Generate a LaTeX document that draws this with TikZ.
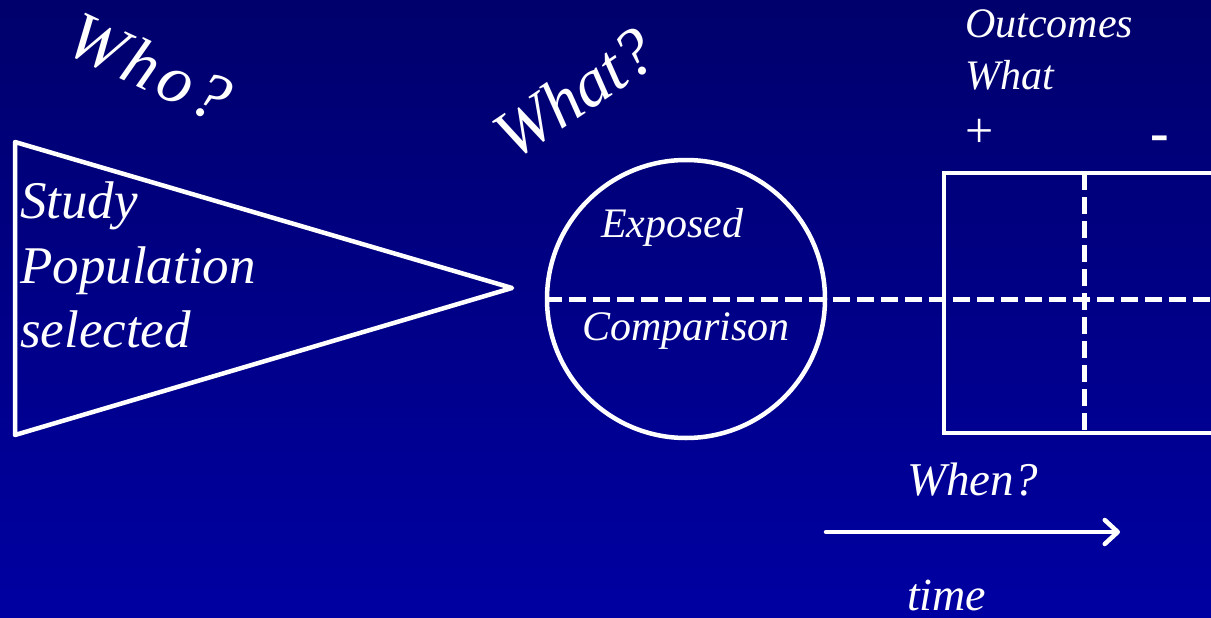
\documentclass[tikz,border=0pt]{standalone}
\usepackage{fontspec}
\setmainfont{Liberation Serif}[ItalicFont={Liberation Serif Italic}, BoldFont={Liberation Serif Bold}]
\usetikzlibrary{arrows.meta}
\definecolor{bgtop}{RGB}{0,0,108}
\definecolor{bgbot}{RGB}{0,0,162}
\begin{document}
\begin{tikzpicture}[x=1pt,y=-1pt,
  lbl/.style={text=white, inner sep=0pt, font=\itshape\fontsize{42}{50}\selectfont},
  tlbl/.style={text=white, inner sep=0pt, font=\itshape\fontsize{47}{50}\selectfont},
  biglbl/.style={text=white, inner sep=0pt, font=\itshape\fontsize{68}{72}\selectfont\addfontfeature{LetterSpace=6}},
  splbl/.style={text=white, inner sep=0pt, font=\itshape\fontsize{53}{60}\selectfont},
  wline/.style={draw=white, line width=4.5pt, line join=round},
  dline/.style={draw=white, line width=5pt, dash pattern=on 17pt off 7pt}]
\useasboundingbox (0,0) rectangle (1211,618);
\clip (0,0) rectangle (1211,618);
\shade[top color=bgtop, bottom color=bgbot] (0,0) rectangle (1211,618);
% triangle
\coordinate (t1) at (15,142);
\coordinate (t2) at (512,288);
\coordinate (t3) at (15,435);
\draw[wline] (t1) -- (t2) -- (t3) -- cycle;
\node[splbl, anchor=base west] (sp1) at (20,218) {Study};
\node[splbl, anchor=base west] (sp2) at (20,283) {Population};
\node[splbl, anchor=base west] (sp3) at (20,347) {selected};
% rotated questions
\node[biglbl, rotate=-25] (who) at (150,67) {Who?};
\node[biglbl, font=\itshape\fontsize{68}{72}\selectfont, rotate=34] (what) at (574,93) {What?};
% circle
\node[circle, draw=white, line width=4.5pt, minimum size=278pt, inner sep=0pt] (grp) at (686,299) {};
\node[lbl, anchor=base west] (exp) at (601,237) {Exposed};
\node[lbl, anchor=base west] (cmp) at (582,340) {Comparison};
% outcome box
\coordinate (sqnw) at (944,173);
\coordinate (sqse) at (1240,433);
\coordinate (vt) at (1084,173);
\coordinate (vb) at (1084,433);
\coordinate (hend) at (1215,299);
\draw[dline] (grp.west) -- (hend);
\draw[draw=white, line width=4pt] (sqnw) rectangle (sqse);
\draw[dline] (vt) -- (vb);
\node[lbl, anchor=base west] (out) at (965,38) {Outcomes};
\node[lbl, anchor=base west] (wht) at (965,90) {What};
\node[text=white, inner sep=0pt, font=\fontsize{50}{52}\selectfont] (plus) at (980,133) {+};
\node[text=white, inner sep=0pt, font=\bfseries\fontsize{56}{58}\selectfont] (minus) at (1160,144) {-};
% time arrow
\node[tlbl, anchor=base west] (when) at (907,495) {When?};
\coordinate (a1) at (826,532);
\coordinate (a2) at (1120,532);
\draw[white, line width=4.5pt, line cap=round, -{Straight Barb[length=13pt,width=24pt,line cap=round,line join=round]}] (a1) -- (a2);
\node[tlbl, font=\itshape\fontsize{46}{50}\selectfont, anchor=base west] (time) at (907,610) {time};
\end{tikzpicture}
\end{document}
